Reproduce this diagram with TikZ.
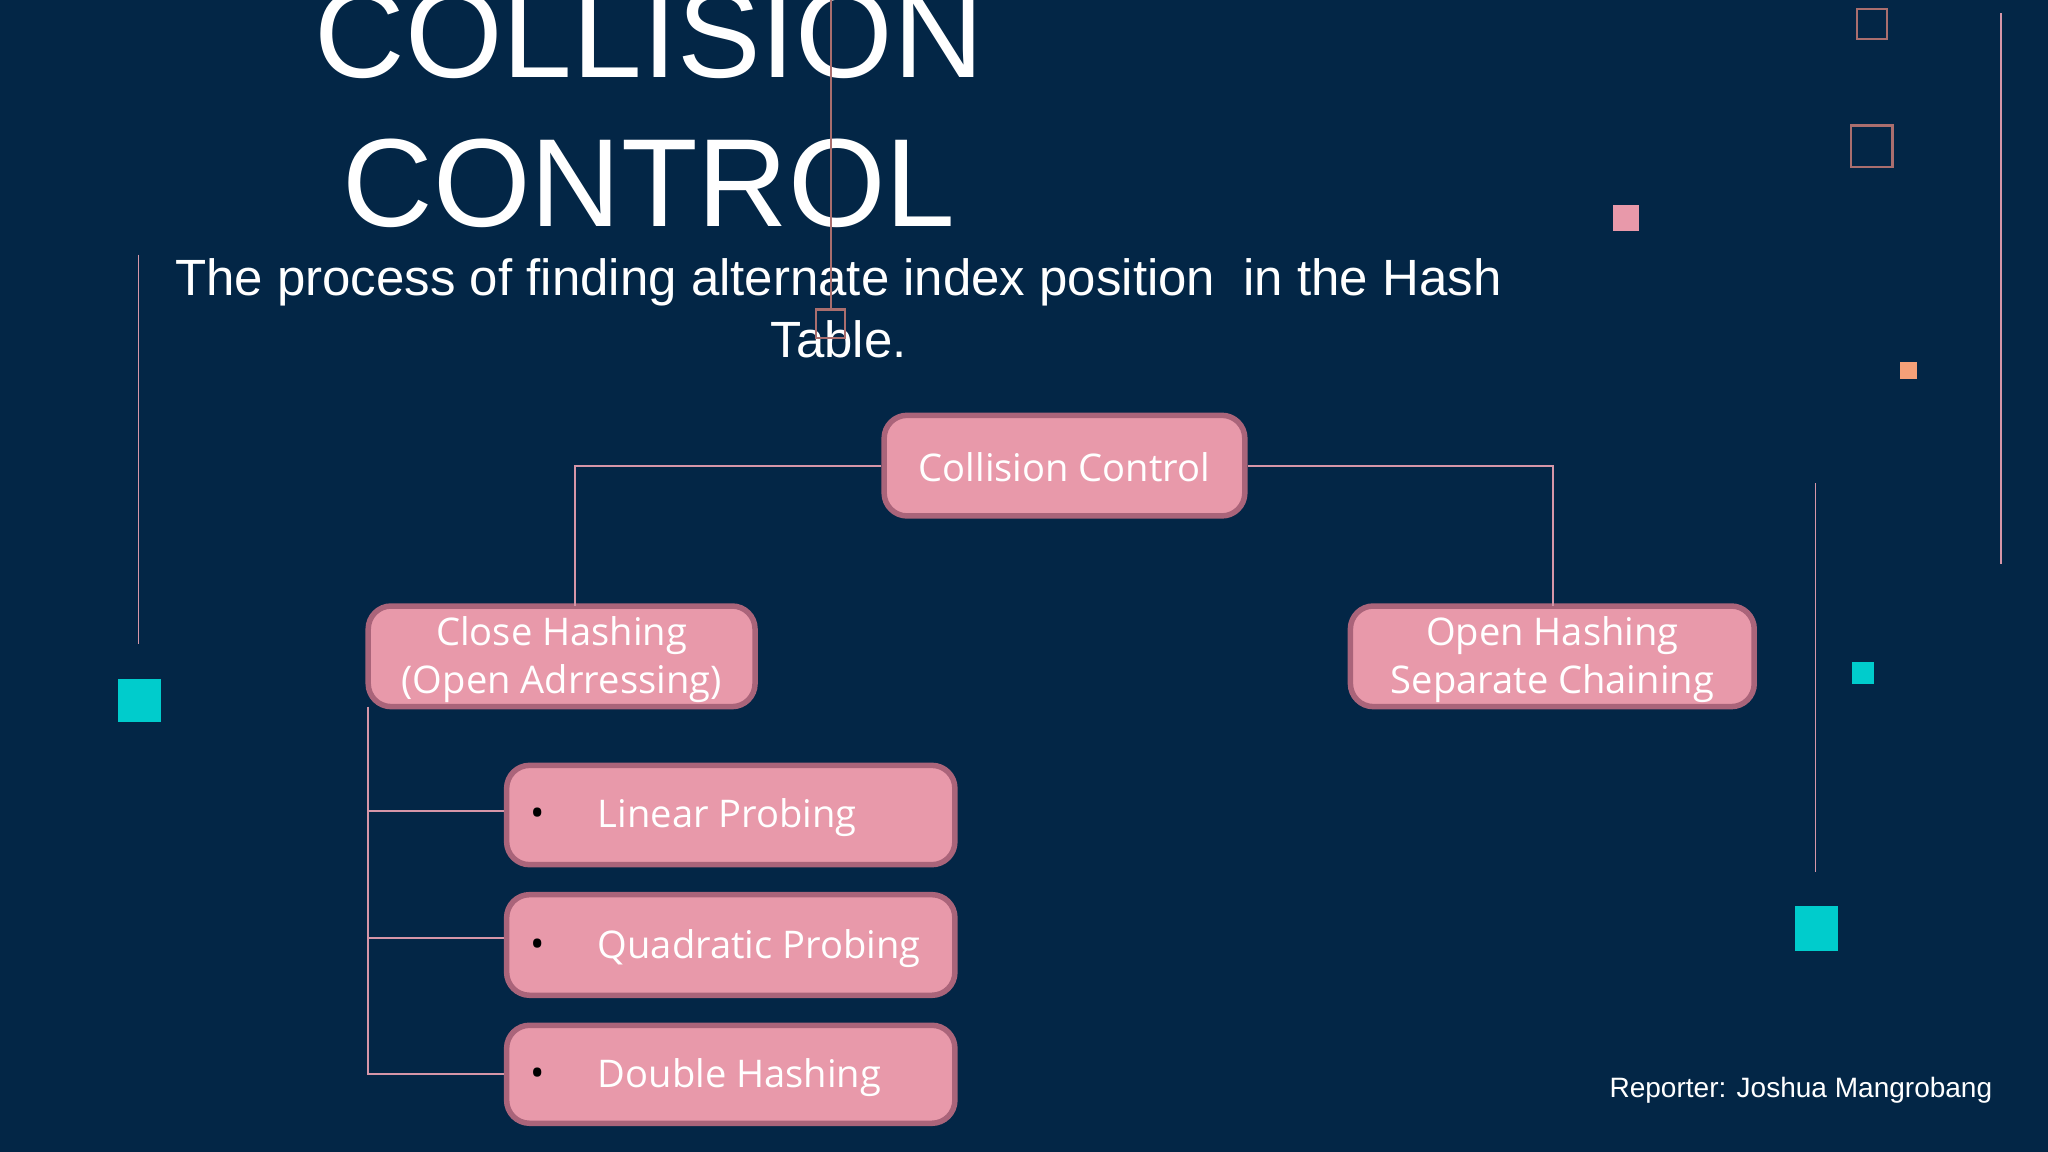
\documentclass[tikz,border=0pt]{standalone}
\usepackage{fontspec}
\setmainfont{Liberation Sans}
\newfontfamily\boxfont{Open Sans}
\definecolor{bg}{RGB}{3,38,70}
\definecolor{pinkfill}{RGB}{232,153,170}
\definecolor{pinkedge}{RGB}{170,100,122}
\definecolor{lineC}{RGB}{214,150,168}
\definecolor{tealC}{RGB}{0,204,204}
\definecolor{orangeC}{RGB}{245,160,120}
\definecolor{outlineC}{RGB}{170,110,110}
\begin{document}
\begin{tikzpicture}[x=0.01cm,y=-0.01cm,
  pbox/.style={draw=pinkedge,line width=1.2pt,fill=pinkfill,rounded corners=5pt,inner sep=0pt},
  ptext/.style={text=white,font=\boxfont\fontsize{8.3}{10.4}\selectfont,align=center,inner sep=0pt},
  conn/.style={draw=lineC,line width=0.4pt},
  deco/.style={draw=lineC,line width=0.4pt}]
\fill[bg] (0,0) rectangle (1568,882);
\useasboundingbox (0,0) rectangle (1568,882);
% decorations
\draw[deco] (106,195) -- (106,493);
\fill[tealC] (90,520) rectangle (123,553);
\draw[deco] (1532,10) -- (1532,432);
\draw[deco] (1390,370) -- (1390,668);
\fill[tealC] (1418,507) rectangle (1435,524);
\fill[tealC] (1374,694) rectangle (1407,728);
\draw[outlineC,line width=0.5pt] (1422,7) rectangle (1445,30);
\draw[outlineC,line width=0.5pt] (1417,96) rectangle (1449,128);
\fill[pinkfill] (1235,157) rectangle (1255,177);
\fill[orangeC] (1455,277) rectangle (1468,290);
% title
\node[text=white,font=\fontsize{27.3}{31}\selectfont] (t1) at (497,26) {COLLISION};
\node[text=white,font=\fontsize{27.3}{31}\selectfont] (t2) at (497,140) {CONTROL};
\node[text=white,font=\fontsize{11.1}{13.4}\selectfont,align=center] (sub) at (642,236) {The process of finding alternate index position\ \ in the Hash\\Table.};
\draw[outlineC,line width=0.5pt] (636,0) -- (636,237);
\draw[outlineC,line width=0.5pt] (625,237) rectangle (647,259);
% boxes
\node[pbox,minimum width=2.76cm,minimum height=0.77cm] (cc) at (815,356.5) {};
\node[ptext] (cct) at (815,358) {Collision Control};
\node[pbox,minimum width=2.96cm,minimum height=0.77cm] (ch) at (430,502.5) {};
\node[ptext] (cht) at (430,505) {Close Hashing\\(Open Adrressing)};
\node[pbox,minimum width=3.09cm,minimum height=0.77cm] (oh) at (1188.5,502.5) {};
\node[ptext] (oht) at (1188.5,505) {Open Hashing\\Separate Chaining};
\node[pbox,minimum width=3.43cm,minimum height=0.76cm] (lp) at (559.5,624) {};
\node[pbox,minimum width=3.43cm,minimum height=0.77cm] (qp) at (559.5,723.5) {};
\node[pbox,minimum width=3.43cm,minimum height=0.75cm] (dh) at (559.5,822.5) {};
\foreach \n/\t/\y in {lp/Linear Probing/626, qp/Quadratic Probing/726, dh/Double Hashing/825}{
  \node[ptext,text=black] (\n b) at (412,\y) {\textbullet};
  \node[ptext,anchor=west] (\n t) at (457,\y) {\t};
}
% connectors
\draw[conn] (cc.west) -- (440,356.5) -- (440,464);
\draw[conn] (cc.east) -- (1189,356.5) -- (1189,464);
\draw[conn] (282,541) -- (282,822.5) -- (dh.west);
\draw[conn] (282,621) -- (386,621);
\draw[conn] (282,718) -- (386,718);
% reporter
\node[text=white,font=\fontsize{6.1}{7}\selectfont,anchor=east,inner sep=0pt] (rep) at (1526,835) {Reporter: Joshua Mangrobang};
\end{tikzpicture}
\end{document}
